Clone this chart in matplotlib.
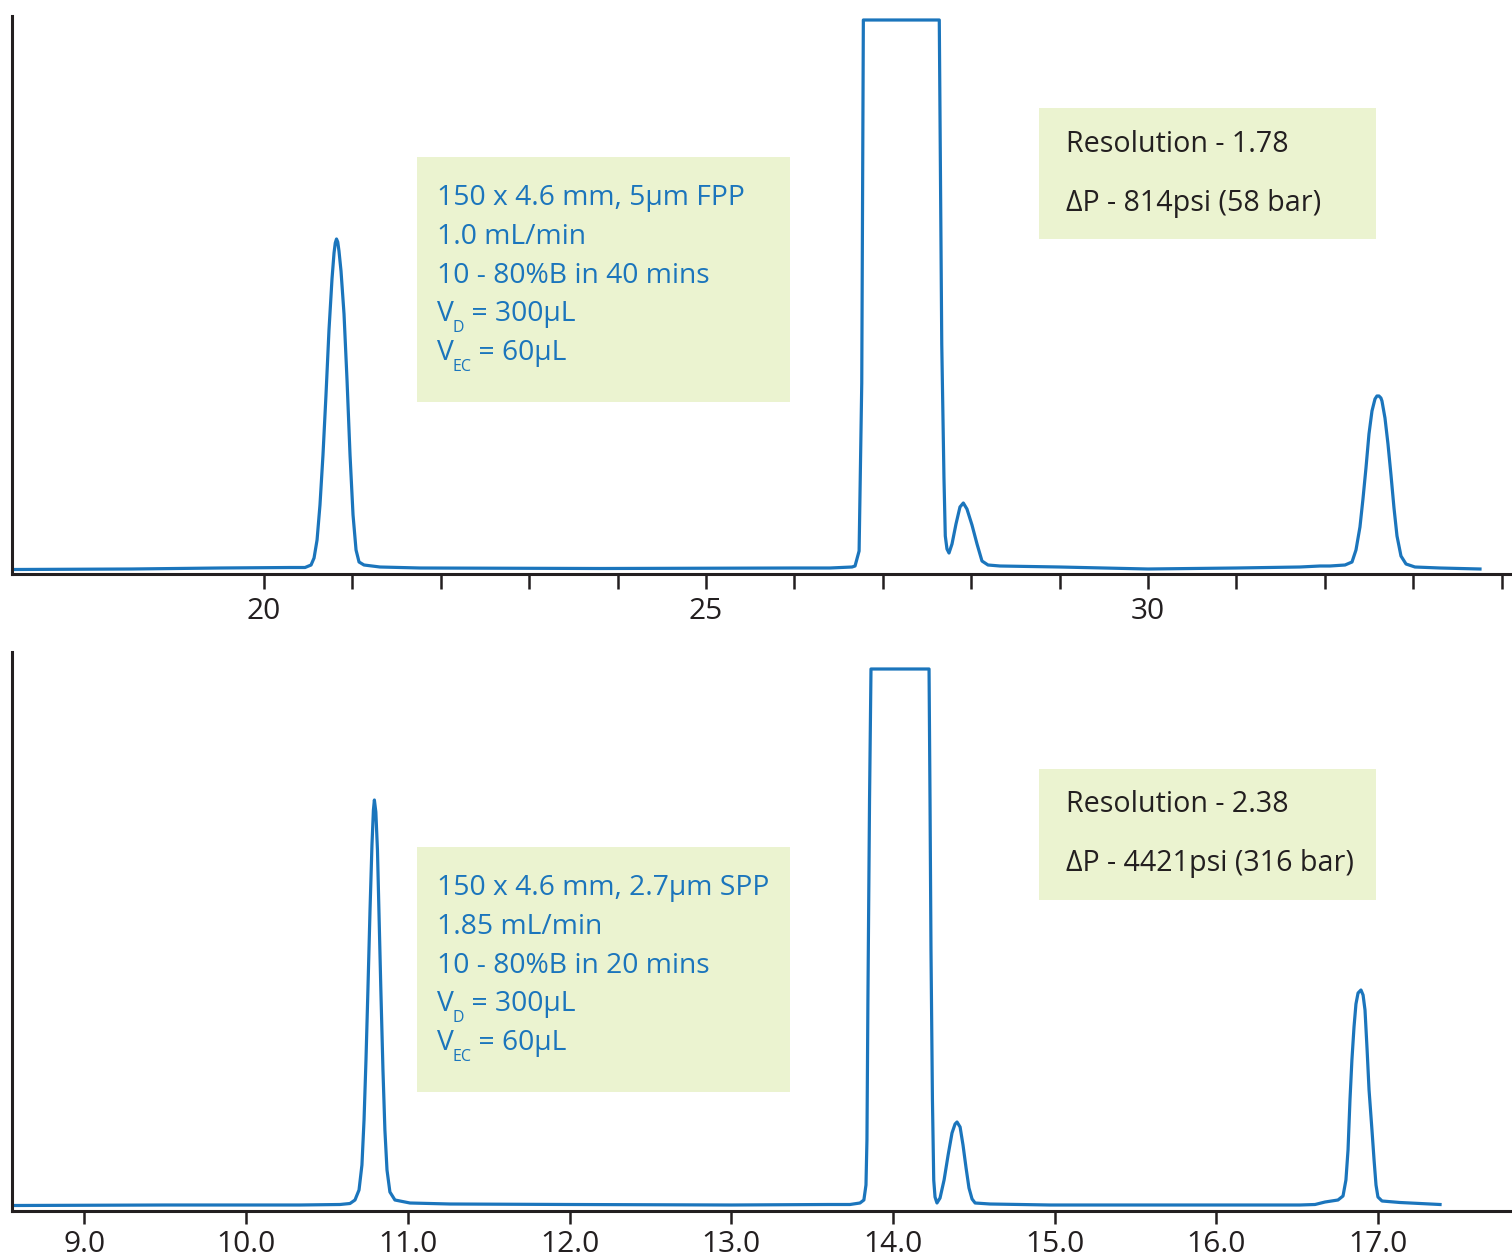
import matplotlib
matplotlib.use("Agg")
import matplotlib.pyplot as plt
from matplotlib.patches import Rectangle

# ---------------- data ----------------
# upper chromatogram: 150 x 4.6 mm, 5 um FPP  (time in min, signal arbitrary units)
top_time = [17.172, 18.50, 19.50, 20.294, 20.464, 20.532, 20.566, 20.600, 20.633, 20.667,
            20.701, 20.735, 20.769, 20.792, 20.806, 20.820, 20.834, 20.848, 20.871, 20.905,
            20.939, 20.973, 21.007, 21.041, 21.075, 21.131, 21.312, 21.765, 23.801, 26.000,
            26.403, 26.652, 26.686, 26.732, 26.762, 26.780, 27.639, 27.667, 27.692, 27.707,
            27.726, 27.749, 27.783, 27.828, 27.873, 27.911, 27.952, 28.009, 28.066, 28.122,
            28.190, 28.326, 29.000, 30.000, 31.000, 31.719, 31.946, 32.059, 32.229, 32.308,
            32.353, 32.398, 32.432, 32.466, 32.500, 32.534, 32.568, 32.590, 32.613, 32.635,
            32.647, 32.681, 32.715, 32.749, 32.783, 32.817, 32.862, 32.919, 33.020, 33.303,
            33.756]
top_signal = [-0.5, 0.0, 1.0, 1.5, 1.5, 4, 11, 29, 64, 114,
              174, 239, 290, 316, 326, 330, 327, 318, 298, 255,
              189, 114, 54, 19, 7, 4, 2, 1, 0.5, 1,
              1, 2, 3, 18, 186, 549, 549, 225, 91, 33,
              20, 16, 25, 45, 62, 66, 60, 44, 25, 8,
              4, 3, 2, 0, 1, 2, 3, 3, 4, 7,
              19, 42, 70, 101, 135, 158, 170, 173, 173, 171,
              168, 151, 125, 94, 61, 33, 13, 5, 2, 1,
              0]

# lower chromatogram: 150 x 4.6 mm, 2.7 um SPP
bot_time = [8.564, 9.50, 10.333, 10.580, 10.642, 10.673, 10.698, 10.716, 10.729, 10.741,
            10.753, 10.766, 10.778, 10.787, 10.793, 10.802, 10.812, 10.821, 10.833, 10.846,
            10.858, 10.871, 10.889, 10.920, 11.013, 11.260, 12.000, 13.000, 13.600, 13.734,
            13.796, 13.820, 13.833, 13.839, 13.845, 13.855, 13.864, 14.223, 14.229, 14.235,
            14.244, 14.252, 14.260, 14.272, 14.291, 14.316, 14.341, 14.365, 14.384, 14.396,
            14.415, 14.433, 14.452, 14.470, 14.489, 14.508, 14.600, 14.971, 15.500, 16.000,
            16.517, 16.610, 16.672, 16.752, 16.783, 16.801, 16.814, 16.826, 16.838, 16.851,
            16.863, 16.876, 16.894, 16.907, 16.919, 16.932, 16.944, 16.953, 16.962, 16.975,
            16.987, 16.999, 17.024, 17.135, 17.383]
bot_signal = [-0.5, 0.0, 0.0, 0.5, 1.5, 5, 15, 40, 85, 145,
              215, 295, 360, 395, 405, 393, 355, 295, 215, 135,
              75, 35, 13, 5, 2, 1, 0.5, 0, 0.5, 0.5,
              2, 5, 20, 65, 205, 405, 536, 536, 405, 255,
              105, 25, 8, 2, 7, 25, 50, 72, 81, 83,
              78, 60, 37, 17, 6, 2, 1, 0, 0, 0,
              0, 0.5, 3, 5, 9, 25, 55, 105, 145, 178,
              201, 212, 215, 210, 195, 155, 115, 95, 75, 45,
              20, 8, 4, 2.5, 0.5]

top_ticks = list(range(20, 35))
top_labels = ["20" if t == 20 else "25" if t == 25 else "30" if t == 30 else "" for t in top_ticks]
bot_ticks = [9.0, 10.0, 11.0, 12.0, 13.0, 14.0, 15.0, 16.0, 17.0]
bot_labels = ["9.0", "10.0", "11.0", "12.0", "13.0", "14.0", "15.0", "16.0", "17.0"]

top_cond = ["150 x 4.6 mm, 5\u03bcm FPP", "1.0 mL/min", "10 - 80%B in 40 mins"]
bot_cond = ["150 x 4.6 mm, 2.7\u03bcm SPP", "1.85 mL/min", "10 - 80%B in 20 mins"]
vol_lines = [("D", " = 300\u03bcL"), ("EC", " = 60\u03bcL")]
top_result = ["Resolution - 1.78", "\u0394P - 814psi (58 bar)"]
bot_result = ["Resolution - 2.38", "\u0394P - 4421psi (316 bar)"]

# ---------------- styling ----------------
plt.rcParams["font.family"] = ["Open Sans", "DejaVu Sans"]
BLUE = "#1B75BC"
DARK = "#231F20"
BOXC = "#EBF3D0"

W, H = 1512, 1257
fig = plt.figure(figsize=(W / 100, H / 100), dpi=100)


def fx(px):
    return px / W


def fy(py):
    return 1 - py / H


ax1 = fig.add_axes([fx(12), fy(574), 1 - fx(12), (574 - 16) / H])
ax2 = fig.add_axes([fx(12), fy(1211), 1 - fx(12), (1211 - 652) / H])

ax1.plot(top_time, top_signal, color=BLUE, lw=2.3, solid_joinstyle="round", zorder=2)
ax2.plot(bot_time, bot_signal, color=BLUE, lw=2.3, solid_joinstyle="round", zorder=2)

ax1.set_xlim(17.149, 34.118)
ax1.set_ylim(-5, 553)
ax2.set_xlim(8.552, 17.828)
ax2.set_ylim(-6, 553)

for ax, ticks, labels, tl, pad in ((ax1, top_ticks, top_labels, 10.8, 5.5),
                                   (ax2, bot_ticks, bot_labels, 9.5, 4.5)):
    for s in ("top", "right"):
        ax.spines[s].set_visible(False)
    for s in ("left", "bottom"):
        ax.spines[s].set_color(DARK)
        ax.spines[s].set_linewidth(2.2)
    ax.set_yticks([])
    ax.set_xticks(ticks)
    ax.set_xticklabels(labels)
    ax.tick_params(axis="x", direction="out", length=tl, width=1.8, color=DARK,
                   labelsize=21.5, labelcolor=DARK, pad=pad)
    ax.set_facecolor("none")


def box(ax, x0, y0, x1, y1):
    ax.add_patch(Rectangle((fx(x0), fy(y1)), (x1 - x0) / W, (y1 - y0) / H,
                           transform=fig.transFigure, facecolor=BOXC,
                           edgecolor="none", zorder=1, clip_on=False))


def label(ax, txt, xy, xycoords, size, color, va="baseline", xytext=None):
    kw = {}
    if xytext is not None:
        kw = dict(xytext=xytext, textcoords="offset points")
    return ax.annotate(txt, xy=xy, xycoords=xycoords, fontsize=size, color=color,
                       ha="left", va=va, annotation_clip=False, zorder=5, **kw)


COND_FS = 20.3
RES_FS = 20.6


def cond_block(ax, dy, lines):
    box(ax, 417, 157 + dy, 790, 402 + dy)
    bases = [205, 244, 283, 321, 360]
    for txt, b in zip(lines, bases[:3]):
        label(ax, txt, (fx(437), fy(b + dy)), "figure fraction", COND_FS, BLUE)
    for (sub, rest), b in zip(vol_lines, bases[3:]):
        v = label(ax, "V", (fx(437), fy(b + dy)), "figure fraction", COND_FS, BLUE)
        s = label(ax, sub, (1, fy(b + dy + 11)), (v, "figure fraction"), 11.5, BLUE,
                  xytext=(-1.2, 0))
        label(ax, rest, (1, fy(b + dy)), (s, "figure fraction"), COND_FS, BLUE)


def result_block(ax, dy, lines):
    box(ax, 1039, 108 + dy, 1376, 239 + dy)
    for txt, c in zip(lines, [144, 203]):
        label(ax, txt, (fx(1066), fy(c + dy)), "figure fraction", RES_FS, DARK, va="center")


cond_block(ax1, 0, top_cond)
cond_block(ax2, 690, bot_cond)
result_block(ax1, 0, top_result)
result_block(ax2, 661, bot_result)

fig.savefig("out.png", dpi=100, facecolor="white")
